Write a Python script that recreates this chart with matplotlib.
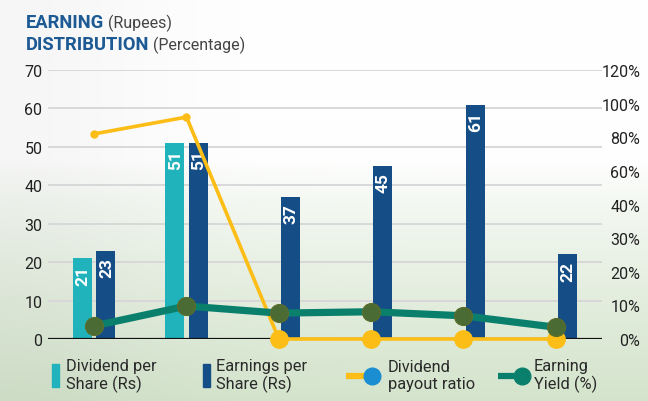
import numpy as np
import matplotlib
matplotlib.use("Agg")
import matplotlib.pyplot as plt
from matplotlib.lines import Line2D
from matplotlib.patches import Rectangle

plt.rcParams['font.family'] = ['Roboto', 'DejaVu Sans']

# ---- data ----
categories = ["Y1", "Y2", "Y3", "Y4", "Y5", "Y6"]
dividend_per_share = [21, 51, 0, 0, 0, 0]
earnings_per_share = [23, 51, 37, 45, 61, 22]
dividend_payout_ratio = [82, 92, 0, 0, 0, 0]      # %
earning_yield = [3.9, 9.8, 7.7, 8.1, 6.9, 3.5]    # %
left_ticks = [0, 10, 20, 30, 40, 50, 60, 70]
right_tick_values = [0, 10, 20, 30, 40, 60, 80, 100, 120]
right_tick_labels = ["0%", "10%", "20%", "30%", "40%", "60%", "80%", "100%", "120%"]
legend_labels = ["Dividend per\nShare (Rs)", "Earnings per\nShare (Rs)",
                 "Dividend\npayout ratio", "Earning\nYield (%)"]

# ---- styles ----
C_DPS = "#20b3bc"
C_EPS = "#154d86"
C_PAY = "#fcbd16"
C_PAY_LEG = "#1b8ed2"
C_EY = "#0a806c"
C_EY_MK = "#4a6b33"
C_TITLE = "#1d5a94"

W, H = 648, 402
fig = plt.figure(figsize=(W / 100, H / 100), dpi=100)

# background gradient
bg = fig.add_axes([0, 0, 1, 1], zorder=-10)
rows = np.linspace(0, 1, 402)
t = np.clip((rows - 0.40) / 0.60, 0, 1) ** 0.8
top = np.array([1.0, 1.0, 1.0])
bot = np.array([212, 228, 204]) / 255
grad = top[None, :] * (1 - t[:, None]) + bot[None, :] * t[:, None]
cols = np.linspace(0, 1, 648)
hx = 1 - 0.035 * np.exp(-((cols - 0.0) / 0.25) ** 2)
img = grad[:, None, :] * hx[None, :, None]
bg.imshow(np.clip(img, 0, 1), aspect='auto', extent=[0, 1, 0, 1], origin='upper')
bg.set_axis_off()

L, R, B, T = 48 / W, 602 / W, 1 - 340 / H, 1 - 71 / H
ax = fig.add_axes([L, B, R - L, T - B])
ax.patch.set_alpha(0)
x = np.arange(len(categories))
bw = 0.205
off = 0.125
b1 = ax.bar(x - off, dividend_per_share, bw, color=C_DPS, zorder=2)
b2 = ax.bar(x + off, earnings_per_share, bw, color=C_EPS, zorder=2)
for bars, vals in ((b1, dividend_per_share), (b2, earnings_per_share)):
    for rect, v in zip(bars, vals):
        if v > 0:
            ax.annotate(f"{v}", (rect.get_x() + rect.get_width() / 2, v),
                        xytext=(0.5, -4.5), textcoords='offset points',
                        rotation=90, ha='center', va='top', color='white',
                        fontsize=12.5, fontweight='semibold', zorder=3)
ax.set_xlim(-0.5, len(categories) - 0.5)
ax.set_ylim(0, 70)
ax.set_yticks(left_ticks)
ax.set_xticks([])
ax.grid(axis='y', color='#d6d6d6', lw=1.3, zorder=0)
ax.set_axisbelow(True)
for s in ax.spines.values():
    s.set_visible(False)
ax.axhline(0, color='#111111', lw=1.6, zorder=2.5)
ax.tick_params(axis='y', length=0, pad=4, labelsize=11.5, labelcolor='#222222')

# secondary axis with piecewise scale matching the tick labels
ax2 = ax.twinx()
idx = np.arange(len(right_tick_values), dtype=float)
fwd = lambda v: np.interp(v, right_tick_values, idx, left=-1, right=9)
inv = lambda u: np.interp(u, idx, right_tick_values)
ax2.set_yscale('function', functions=(fwd, inv))
ax2.set_ylim(right_tick_values[0], right_tick_values[-1])
ax2.set_yticks(right_tick_values)
ax2.set_yticklabels(right_tick_labels)
ax2.minorticks_off()
for s in ax2.spines.values():
    s.set_visible(False)
ax2.tick_params(axis='y', length=0, pad=27.5, labelsize=11.5, labelcolor='#222222')
for lab in ax2.get_yticklabels():
    lab.set_ha('right')

ax2.plot(x, dividend_payout_ratio, color=C_PAY, lw=2.6, marker='o', ms=5,
         zorder=4, clip_on=False)
pay = np.array(dividend_payout_ratio)
zero = pay == 0
ax2.plot(x[zero], pay[zero], ls='none', marker='o', ms=12.5, color=C_PAY,
         zorder=4, clip_on=False)
ax2.plot(x, earning_yield, color=C_EY, lw=5.2, marker='o', ms=13,
         markerfacecolor=C_EY_MK, markeredgecolor='#5d6e2a', markeredgewidth=0.8,
         zorder=5, clip_on=False)

# titles
t1 = fig.text(26 / W, 1 - 28 / H, "EARNING", fontsize=13.2, fontweight='bold',
              color=C_TITLE, va='baseline')
t2 = fig.text(26 / W, 1 - 50 / H, "DISTRIBUTION", fontsize=13.2, fontweight='bold',
              color=C_TITLE, va='baseline')
fig.canvas.draw()
r = fig.canvas.get_renderer()
e1 = t1.get_window_extent(r)
fig.text(e1.x1 / W, 1 - 28 / H, " (Rupees)", fontsize=11.5, color='#444444', va='baseline')
e2 = t2.get_window_extent(r)
fig.text(e2.x1 / W, 1 - 50 / H, " (Percentage)", fontsize=11.5, color='#444444', va='baseline')

# legend
lg = fig.add_axes([0, 0, 1, 1], zorder=6)
lg.set_xlim(0, W)
lg.set_ylim(H, 0)
lg.set_axis_off()
lg.add_patch(Rectangle((52, 365), 7, 23, color=C_DPS))
lg.add_patch(Rectangle((203, 365), 7, 23, color=C_EPS))
lg.add_line(Line2D([346, 372], [377, 377], color=C_PAY, lw=4.5, solid_capstyle='butt'))
lg.add_line(Line2D([372], [377], marker='o', ms=12, color=C_PAY_LEG, ls='none'))
lg.add_line(Line2D([498, 522], [377, 377], color=C_EY, lw=4.5, solid_capstyle='butt'))
lg.add_line(Line2D([522], [377], marker='o', ms=12, color=C_EY, ls='none'))
for xx, txt in zip([66, 216, 388, 534], legend_labels):
    lg.text(xx, 376, txt, fontsize=11.8, color='#2a2a2a', va='center', ha='left',
            linespacing=1.15)

fig.savefig("out.png", dpi=100)
